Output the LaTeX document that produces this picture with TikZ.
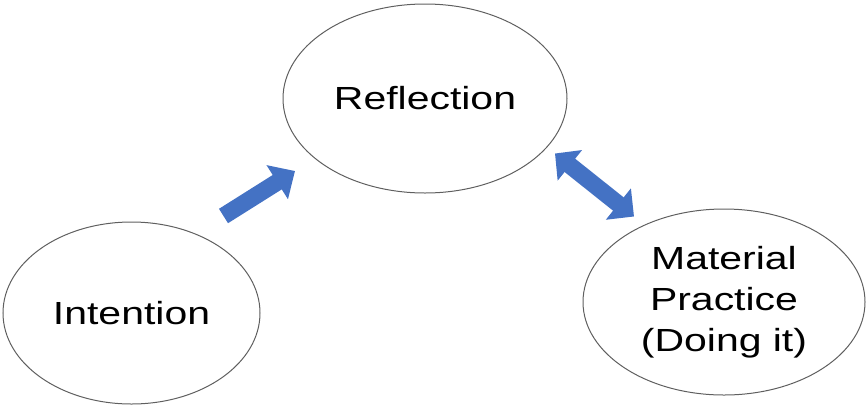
\documentclass[tikz,border=0pt]{standalone}
\usepackage{fontspec}
\setmainfont{Liberation Sans}[FakeStretch=1.28]
\usetikzlibrary{shapes.geometric,arrows.meta}
\definecolor{arrowblue}{HTML}{4472C4}
\definecolor{rimgray}{RGB}{95,95,95}
\begin{document}
\begin{tikzpicture}[x=1pt,y=-1pt,
  bubble/.style={ellipse,draw=rimgray,line width=1pt,inner sep=0pt,align=center,font=\fontsize{32}{41}\selectfont},
  blockarrow/.style={draw=arrowblue,line width=17pt}]
\useasboundingbox (0,0) rectangle (867,405);
\node[bubble,minimum width=284pt,minimum height=189pt] (ref) at (425,98.5) {Reflection};
\node[bubble,minimum width=257pt,minimum height=182pt] (int) at (131.5,313) {Intention};
\node[bubble,minimum width=282pt,minimum height=186pt] (mat) at (724,302) {Material\\Practice\\(Doing it)};
\coordinate (a1s) at (223.5,216);
\coordinate (a1e) at (295,171);
\coordinate (a2s) at (555,153.5);
\coordinate (a2e) at (634,216.5);
\draw[blockarrow,-{Triangle[length=21pt,width=39pt]}] (a1s) -- (a1e);
\draw[blockarrow,{Triangle[length=19pt,width=38pt]}-{Triangle[length=20pt,width=39pt]}] (a2s) -- (a2e);
\end{tikzpicture}
\end{document}
